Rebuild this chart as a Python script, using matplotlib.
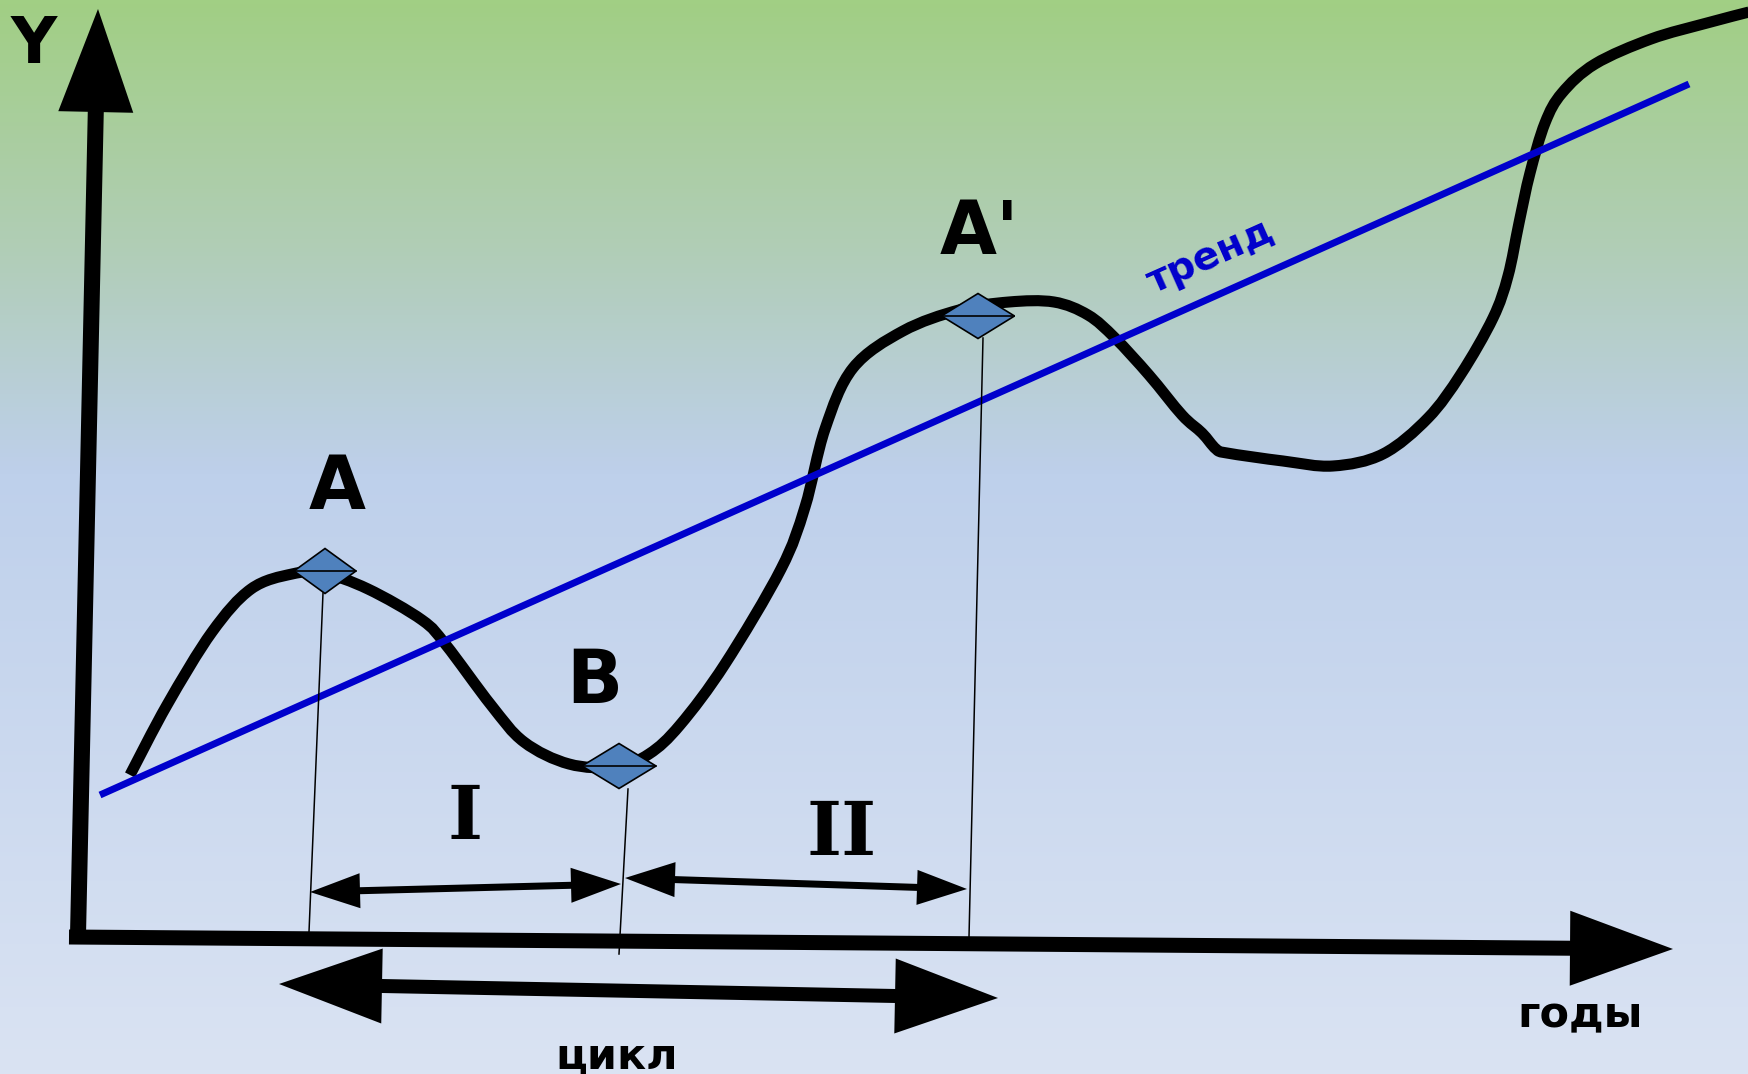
import numpy as np
import matplotlib.pyplot as plt
from matplotlib.colors import LinearSegmentedColormap
from matplotlib.patches import Polygon, PathPatch
from matplotlib.path import Path

W, H = 1749, 1074

# economic cycle curve (pixel coords of the diagram)
curve_x = [130, 167, 212, 251, 292, 323, 368, 422, 446, 491, 524, 569, 616, 649,
           680, 725, 781, 805, 825, 853, 903, 959, 1009, 1054, 1088, 1115, 1149,
           1182, 1202, 1216, 1227, 1283, 1333, 1383, 1428, 1461, 1493, 1508, 1519,
           1530, 1545, 1562, 1595, 1651, 1707, 1749]
curve_y = [775, 705, 632, 589, 574, 573, 589, 620, 645, 705, 742, 764, 767, 754,
           725, 664, 569, 507, 429, 368, 331, 310, 302, 302, 315, 338, 375, 415,
           433, 449, 453, 461, 466, 454, 418, 374, 318, 276, 223, 173, 123, 93,
           64, 39, 23, 12]

# trend line end points
trend_x = [100, 1689]
trend_y = [795, 84]

# marked points A, B, A'
mark_x = [325, 619, 978]
mark_y = [571, 766, 316]
mark_w = [62, 74, 73]
lead_top = [(323, 593), (628, 789), (983, 338)]
lead_bot = [(309, 932), (619, 954), (969, 937)]

fig = plt.figure(figsize=(W / 100, H / 100), dpi=100)
ax = fig.add_axes([0, 0, 1, 1])
ax.set_xlim(0, W)
ax.set_ylim(H, 0)
ax.axis("off")

# background gradient
cmap = LinearSegmentedColormap.from_list(
    "bg", [(0.0, "#a1cf84"), (0.22, "#b0cdb4"), (0.44, "#bed0eb"), (1.0, "#dae3f3")])
grad = np.linspace(0, 1, 256).reshape(-1, 1)
ax.imshow(grad, cmap=cmap, aspect="auto", extent=(0, W, H, 0), zorder=0)


def arrow(p0, p1, w, hw, hl, both=False):
    p0 = np.array(p0, float)
    p1 = np.array(p1, float)
    u = (p1 - p0) / np.linalg.norm(p1 - p0)
    n = np.array([-u[1], u[0]])
    b1 = p1 - u * hl
    if both:
        b0 = p0 + u * hl
        pts = [p0, b0 + n * hw / 2, b0 + n * w / 2, b1 + n * w / 2, b1 + n * hw / 2, p1,
               b1 - n * hw / 2, b1 - n * w / 2, b0 - n * w / 2, b0 - n * hw / 2]
    else:
        pts = [p0 + n * w / 2, b1 + n * w / 2, b1 + n * hw / 2, p1,
               b1 - n * hw / 2, b1 - n * w / 2, p0 - n * w / 2]
    ax.add_patch(Polygon(pts, closed=True, facecolor="black", edgecolor="none", zorder=5))


def smooth_path(xs, ys):
    # catmull-rom through the points, as bezier segments
    P = np.column_stack([xs, ys]).astype(float)
    n = len(P)
    verts = [P[0]]
    codes = [Path.MOVETO]
    for i in range(n - 1):
        pa = P[i - 1] if i > 0 else P[i]
        pb = P[i + 2] if i + 2 < n else P[i + 1]
        verts += [P[i] + (P[i + 1] - pa) / 6, P[i + 1] - (pb - P[i]) / 6, P[i + 1]]
        codes += [Path.CURVE4] * 3
    return Path(verts, codes)


# axes arrows
arrow((78, 935), (98, 9), 16, 75, 103)
arrow((69, 937), (1673, 949), 15, 75, 103)

# curve and trend
ax.add_patch(PathPatch(smooth_path(curve_x, curve_y), fill=False, edgecolor="black",
                       lw=8, capstyle="butt", joinstyle="round", zorder=3))
ax.plot(trend_x, trend_y, color="#0000cc", lw=5, solid_capstyle="butt", zorder=4)

# phase arrows
arrow((310, 892), (621, 884), 7, 35, 50, both=True)
arrow((625, 878), (967, 889), 7, 35, 50, both=True)
arrow((279, 984), (998, 998), 14, 75, 103, both=True)

# leaders and diamonds
for (x0, y0), (x1, y1) in zip(lead_top, lead_bot):
    ax.plot([x0, x1], [y0, y1], color="black", lw=1.1, zorder=6)
for x, y, w in zip(mark_x, mark_y, mark_w):
    d = Polygon([(x - w / 2, y), (x, y - 22.5), (x + w / 2, y), (x, y + 22.5)],
                closed=True, facecolor="#4f81bd", edgecolor="black", lw=1.2, zorder=7)
    ax.add_patch(d)
    ax.plot([x - w / 2, x + w / 2], [y, y], color="black", lw=1.2, zorder=8)

bold = dict(fontweight="bold", color="black", family="DejaVu Sans", zorder=9)
ax.text(34, 63, "Y", fontsize=46, ha="center", va="baseline", **bold)
ax.text(337, 509, "A", fontsize=53, ha="center", va="baseline", **bold)
ax.text(594, 703, "B", fontsize=53, ha="center", va="baseline", **bold)
ax.text(940, 254, "A'", fontsize=53, ha="left", va="baseline", **bold)
ax.text(1580, 1027, "годы", fontsize=31, ha="center", va="baseline", **bold)
ax.text(617, 1068, "цикл", fontsize=31, ha="center", va="baseline", **bold)

roman = dict(fontweight="bold", color="black", family="DejaVu Serif", zorder=9)
ax.text(465, 839, "I", fontsize=54, ha="center", va="baseline", **roman)
ax.text(842, 855, "II", fontsize=54, ha="center", va="baseline", **roman)

ax.text(1215, 266, "тренд", fontsize=28, fontweight="bold", color="#0000cc",
        rotation=24, rotation_mode="anchor", ha="center", va="baseline", zorder=9)

fig.savefig("out.png", dpi=100)
